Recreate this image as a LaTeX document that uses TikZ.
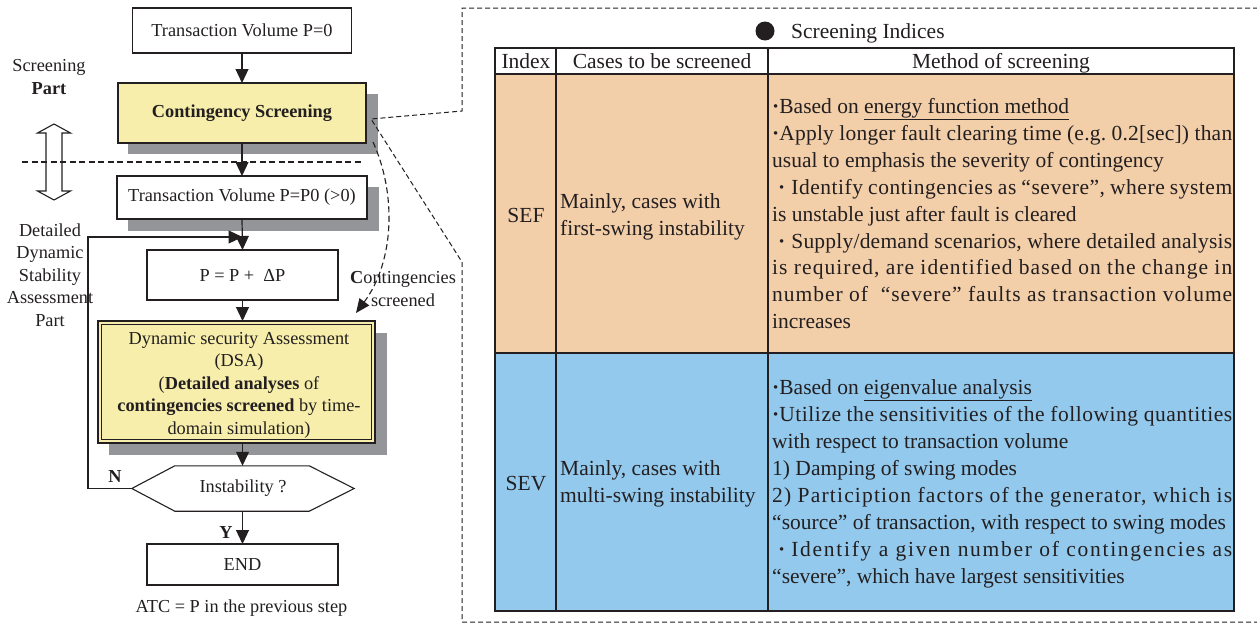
\documentclass[tikz,border=0pt]{standalone}
\usepackage{fontspec}
\setmainfont{Liberation Serif}
\usetikzlibrary{arrows.meta,calc}
\definecolor{ink}{HTML}{231F20}
\definecolor{shad}{HTML}{939598}
\definecolor{yel}{HTML}{F6EEAA}
\definecolor{sefc}{HTML}{F2CEA9}
\definecolor{sevc}{HTML}{93C9ED}
\newcommand{\mdot}{{\bfseries ·}}
\newcommand{\ls}[1]{\addfontfeatures{LetterSpace=#1}}
\frenchspacing
\begin{document}
\begin{tikzpicture}[x=1pt,y=-1pt,
  box/.style={draw=ink,line width=1.1pt,fill=white,inner sep=0pt,outer sep=0pt,
    font=\fontsize{18.3}{22}\selectfont,text=ink},
  ybox/.style={box,fill=yel},
  arr/.style={draw=ink,line width=1.2pt,-{Triangle[length=14pt,width=13pt]}},
  dsh/.style={draw=ink,line width=1.1pt,dash pattern=on 6pt off 3.5pt},
  lbl/.style={font=\fontsize{18.3}{22.5}\selectfont,text=ink,align=center,inner sep=0pt},
  tab/.style={draw=ink,line width=2.8pt},
  tt/.style={font=\fontsize{21.5}{27}\selectfont,text=ink,inner sep=0pt},
  ml/.style={tt,anchor=base west}]
\useasboundingbox (0,0) rectangle (1257,624);

% ---------------- flowchart ----------------
\node[box,minimum width=219,minimum height=45] (b1) at (242,30.5) {Transaction Volume P=0};
\fill[shad] (128,94) rectangle (378,154);
\node[ybox,minimum width=248,minimum height=60] (b2) at (242,113) {\textbf{Contingency Screening}};
\fill[shad] (128,187) rectangle (379,231);
\node[box,minimum width=250,minimum height=43] (b3) at (242,197.5) {Transaction Volume P=P0 (>0)};
\node[box,minimum width=191,minimum height=50] (b4) at (242.5,275) {P = P +~~ΔP};
\fill[shad] (109,333) rectangle (387,455);
\node[box,fill=yel,minimum width=277,minimum height=122] (b5) at (236.5,382) {};
\draw[ink,line width=1.1pt] ([shift={(3.5,-3.5)}]b5.south west) rectangle ([shift={(-3.5,3.5)}]b5.north east);
\node[lbl] at (239,385) {Dynamic security Assessment\\(DSA)\\(\textbf{Detailed analyses} of\\\textbf{contingencies screened} by time-\\domain simulation)};
\node[lbl,minimum width=222,minimum height=45] (hex) at (243,488.5) {};
\draw[ink,line width=1.1pt,fill=white] (hex.west) -- ([xshift=43]hex.north west) -- ([xshift=-45]hex.north east) -- (hex.east) -- ([xshift=-45]hex.south east) -- ([xshift=43]hex.south west) -- cycle;
\node[lbl] at (hex.center) {Instability ?};
\node[box,minimum width=191,minimum height=41] (end) at (242.5,564.5) {END};

\draw[arr] (b1.south) -- (b2.north);
\draw[arr] (b2.south) -- (b3.north);
\draw[arr] (b3.south) -- (b4.north);
\draw[arr] (b4.south) -- (b4.south |- b5.north);
\draw[arr] (b4.south |- b5.south) -- (hex.north -| b4.south);
\draw[arr] (hex.south -| b4.south) -- (end.north);
\coordinate (lp) at (88,237);
\draw[arr] (hex.west) -- (hex.west -| lp) -- (lp) -- (lp -| b4.north);
\node[lbl,font=\fontsize{18.3}{22}\selectfont\bfseries] at (115,477) {N};
\node[lbl,font=\fontsize{18.3}{22}\selectfont\bfseries] at (226,532) {Y};
\node[lbl] (atc) at (241.5,608) {ATC = P in the previous step};

% left labels
\node[lbl] (scr) at (49,77) {Screening\\\textbf{Part}};
\node[lbl] (ddsa) at (50,275) {Detailed\\Dynamic\\Stability\\Assessment\\Part};
\draw[ink,line width=1.1pt,fill=white] (54,124) -- (70.5,133) -- (62,133) -- (62,191) -- (70.5,191) -- (54,200) -- (37.5,191) -- (46,191) -- (46,133) -- (37.5,133) -- cycle;
\coordinate (dl1) at (22,162);
\coordinate (dl2) at (362,162);
\draw[dsh] (dl1) -- (dl2);

% callout and curved arrow
\coordinate (cs1) at (373,142);
\coordinate (cs2) at (356,313);
\draw[dsh,-{Triangle[length=14pt,width=12pt]}] (cs1) .. controls (397,195) and (394,262) .. (cs2);
\node[lbl] (cscr) at (403,289) {\textbf{C}ontingencies\\screened};
\coordinate (cp) at (371,119);
\draw[dsh,line width=1pt,dash pattern=on 5pt off 3pt] (1258,8) -- (462,8) -- (462,111) -- (cp) -- (462,262) -- (462,622) -- (1258,622);

% ---------------- table ----------------
\fill[ink] (765,31) circle (9.5);
\node[tt,anchor=base west] (sti) at (791,38) {Screening Indices};
\fill[white] (495,48) rectangle (1234,74);
\fill[sefc] (495,74) rectangle (1234,353);
\fill[sevc] (495,353) rectangle (1234,611);
\draw[tab] (495,48) rectangle (1234,611);
\draw[tab] (556,48) -- (556,611);
\draw[tab] (768,48) -- (768,611);
\draw[tab] (495,74) -- (1234,74);
\draw[tab] (495,353) -- (1234,353);

\node[tt,anchor=base] at (526,68.5) {Index};
\node[tt,anchor=base] at (662,68.5) {Cases to be screened};
\node[tt,anchor=base] at (1001,68.5) {Method of screening};

\node[tt,anchor=base] at (526,222) {SEF};
\node[ml] at (560,208) {Mainly, cases with};
\node[ml] at (560,235) {first-swing instability};
\node[tt,anchor=base] at (526,490) {SEV};
\node[ml] at (560,475) {Mainly, cases with};
\node[ml] at (560,502) {multi-swing instability};

\node[ml] at (772,113) {\mdot Based on \underline{energy function method}};
\node[ml] at (772,140) {\makebox[460pt][s]{\ls{1}\mdot Apply longer fault clearing time (e.g. 0.2[sec]) than}};
\node[ml] at (772,167) {usual to emphasis the severity of contingency};
\node[ml] at (772,194) {\makebox[460pt][s]{\ls{2.5}\hspace{6pt}\mdot\hspace{6pt}Identify contingencies as “severe”, where system}};
\node[ml] at (772,221) {is unstable just after fault is cleared};
\node[ml] at (772,248) {\makebox[460pt][s]{\ls{1}\hspace{6pt}\mdot\hspace{6pt}Supply/demand scenarios, where detailed analysis}};
\node[ml] at (772,274) {\makebox[460pt][s]{\ls{5}is required, are identified based on the change in}};
\node[ml] at (772,301) {\makebox[460pt][s]{\ls{4.5}number of \ “severe” faults as transaction volume}};
\node[ml] at (772,328) {increases};

\node[ml] at (772,394) {\mdot Based on \underline{eigenvalue analysis}};
\node[ml] at (772,421) {\makebox[460pt][s]{\ls{2.5}\mdot Utilize the sensitivities of the following quantities}};
\node[ml] at (772,448) {with respect to transaction volume};
\node[ml] at (772,475) {1) Damping of swing modes};
\node[ml] at (772,502) {\makebox[460pt][s]{\ls{5.5}2) Particiption factors of the generator, which is}};
\node[ml] at (772,529) {“source” of transaction, with respect to swing modes};
\node[ml] at (772,556) {\makebox[460pt][s]{\ls{8}\hspace{6pt}\mdot\hspace{6pt}Identify a given number of contingencies as}};
\node[ml] at (772,583) {“severe”, which have largest sensitivities};
\end{tikzpicture}
\end{document}
